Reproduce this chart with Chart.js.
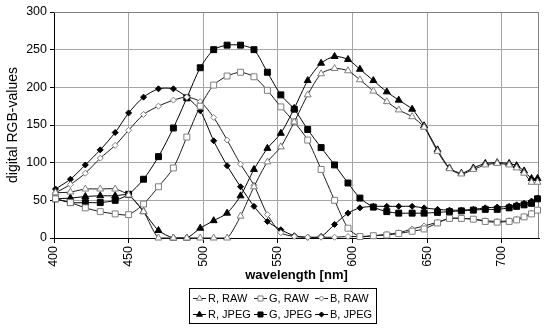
<!DOCTYPE html>
<html>
<head>
<meta charset="utf-8">
<script src="https://cdn.jsdelivr.net/npm/chart.js@4.4.1/dist/chart.umd.min.js"></script>
<style>
	html, body { margin: 0; padding: 0; background: #fff; }
</style>
</head>
<body>
<canvas id="rgbChart" width="545" height="330"></canvas>
<script>
// wavelengths of the measured points [nm]
const wavelengths = [401, 411, 421, 431, 441, 450, 460, 470, 480, 489,
	498, 507, 516, 525, 534, 543, 552, 561, 570, 579,
	588, 597, 605, 614, 623, 631, 640, 648, 657, 665,
	673, 681, 689, 697, 705, 710, 715, 720, 724];

const rRaw = [60, 61, 65, 65, 65, 57, 35, 0, 0, 0,
	0, 0, 0, 29, 68, 101, 121, 154, 190, 218,
	225, 222, 210, 195, 181, 170, 161, 147, 115, 92,
	85, 91, 97, 99, 97, 93, 86, 74, 74];
const gRaw = [52, 47, 40, 35, 32, 31, 45, 68, 93, 134,
	175, 203, 215, 220, 214, 196, 174, 154, 130, 91,
	50, 13, 2, 3, 4, 6, 9, 12, 20, 26,
	26, 25, 22, 21, 22, 24, 28, 32, 37];
const bRaw = [60, 71, 86, 106, 123, 143, 164, 175, 183, 187,
	181, 160, 130, 98, 70, 31, 7, 2, 1, 1,
	1, 2, 2, 3, 5, 7, 12, 16, 21, 26,
	26, 25, 23, 22, 23, 25, 28, 33, 37];
const rJpeg = [52, 53, 55, 56, 56, 57, 35, 10, 0, 0,
	13, 23, 33, 56, 91, 119, 139, 172, 209, 232,
	241, 237, 224, 209, 194, 183, 171, 149, 117, 93,
	86, 93, 99, 100, 99, 96, 89, 79, 79];
const gJpeg = [52, 47, 47, 47, 50, 58, 78, 108, 146, 186,
	226, 250, 256, 256, 250, 220, 190, 171, 144, 120,
	97, 73, 53, 41, 35, 33, 33, 33, 34, 35,
	36, 37, 38, 38, 40, 42, 44, 46, 52];
const bJpeg = [65, 78, 97, 117, 140, 166, 187, 198, 198, 187,
	169, 129, 96, 68, 42, 22, 11, 3, 1, 2,
	18, 33, 40, 42, 42, 42, 42, 40, 38, 37,
	37, 38, 40, 41, 42, 44, 46, 49, 53];

const seriesLabels = ['R, RAW', 'G, RAW', 'B, RAW', 'R, JPEG', 'G, JPEG', 'B, JPEG'];
const xTicks = [400, 450, 500, 550, 600, 650, 700];

const FONT = 'Arial, "Liberation Sans", Helvetica, sans-serif';

function points(values) {
	return values.map(function(v, i) { return {x: wavelengths[i], y: v}; });
}

function rawSet(label, values, style, radius) {
	return {
		label: label,
		data: points(values),
		showLine: true,
		borderColor: '#1a1a1a',
		borderWidth: 1,
		tension: 0.25,
		pointStyle: style,
		pointRadius: radius,
		pointBorderColor: '#7f7f7f',
		pointBackgroundColor: '#fff',
		pointBorderWidth: 1,
		clip: 8
	};
}

function jpegSet(label, values, style, radius) {
	return {
		label: label,
		data: points(values),
		showLine: true,
		borderColor: '#000',
		borderWidth: 1,
		tension: 0.25,
		pointStyle: style,
		pointRadius: radius,
		pointBorderColor: '#000',
		pointBackgroundColor: '#000',
		pointBorderWidth: 1,
		clip: 8
	};
}

// little marker painter for the legend
function drawMarker(ctx, ds, x, y) {
	let r = ds.pointRadius * 0.85;
	ctx.save();
	ctx.beginPath();
	if (ds.pointStyle === 'triangle') {
		ctx.moveTo(x, y - r);
		ctx.lineTo(x + r * 0.866, y + r * 0.5);
		ctx.lineTo(x - r * 0.866, y + r * 0.5);
		ctx.closePath();
	} else if (ds.pointStyle === 'rect') {
		let s = r * Math.SQRT1_2;
		ctx.rect(x - s, y - s, 2 * s, 2 * s);
	} else {
		ctx.moveTo(x, y - r);
		ctx.lineTo(x + r, y);
		ctx.lineTo(x, y + r);
		ctx.lineTo(x - r, y);
		ctx.closePath();
	}
	ctx.fillStyle = ds.pointBackgroundColor;
	ctx.fill();
	ctx.lineWidth = 1;
	ctx.strokeStyle = ds.pointBorderColor;
	ctx.stroke();
	ctx.restore();
}

const frameAndLegend = {
	id: 'frameAndLegend',
	beforeDatasetsDraw: function(chart) {
		let ctx = chart.ctx;
		let a = chart.chartArea;
		ctx.save();
		ctx.strokeStyle = '#808080';
		ctx.lineWidth = 1;
		ctx.beginPath();
		ctx.moveTo(a.left, Math.round(a.top) + 0.5);
		ctx.lineTo(Math.round(a.right) - 0.5, Math.round(a.top) + 0.5);
		ctx.lineTo(Math.round(a.right) - 0.5, a.bottom);
		ctx.stroke();
		ctx.restore();
	},
	afterDraw: function(chart) {
		let ctx = chart.ctx;
		let sets = chart.data.datasets;
		let colW = 61, rowH = 16;
		let boxW = colW * 3 + 4, boxH = rowH * 2 + 3;
		let boxX = 189, boxY = 288;
		ctx.save();
		ctx.strokeStyle = '#000';
		ctx.lineWidth = 1;
		ctx.strokeRect(boxX + 0.5, boxY + 0.5, boxW, boxH);
		ctx.font = '11px ' + FONT;
		ctx.textBaseline = 'middle';
		ctx.fillStyle = '#000';
		for (let i = 0; i < sets.length; i++) {
			let ds = sets[i];
			let col = i % 3, row = Math.floor(i / 3);
			let x = boxX + 4 + col * colW;
			let y = boxY + 2 + rowH / 2 + row * rowH + 0.5;
			ctx.beginPath();
			ctx.strokeStyle = ds.borderColor;
			ctx.moveTo(x, y);
			ctx.lineTo(x + 13, y);
			ctx.stroke();
			drawMarker(ctx, ds, x + 6.5, y);
			ctx.fillText(ds.label, x + 15, y + 0.5);
		}
		ctx.restore();
	}
};

let config = {
	type: 'scatter',
	data: {
		datasets: [
			rawSet(seriesLabels[0], rRaw, 'triangle', 4),
			rawSet(seriesLabels[1], gRaw, 'rect', 4.2),
			rawSet(seriesLabels[2], bRaw, 'rectRot', 3),
			jpegSet(seriesLabels[3], rJpeg, 'triangle', 4),
			jpegSet(seriesLabels[4], gJpeg, 'rect', 4.2),
			jpegSet(seriesLabels[5], bJpeg, 'rectRot', 3)
		]
	},
	options: {
		responsive: false,
		animation: false,
		layout: {
			padding: {top: 12, right: 6, bottom: 0, left: 0}
		},
		plugins: {
			legend: {display: false},
			tooltip: {enabled: false}
		},
		scales: {
			x: {
				type: 'linear',
				min: 400,
				max: 725,
				afterFit: function(scale) { scale.height = 92; },
				afterBuildTicks: function(scale) {
					scale.ticks = xTicks.map(function(v) { return {value: v}; });
				},
				ticks: {
					stepSize: 50,
					includeBounds: false,
					maxRotation: 90,
					minRotation: 90,
					padding: 3,
					color: '#000',
					font: {family: FONT, size: 12.5}
				},
				grid: {
					color: '#a6a6a6',
					tickColor: '#000',
					tickLength: 5,
					lineWidth: 1
				},
				border: {color: '#000'},
				title: {
					display: true,
					text: 'wavelength [nm]',
					color: '#000',
					font: {family: FONT, size: 13, weight: 'bold'},
					padding: {top: 0, bottom: 47}
				}
			},
			y: {
				min: 0,
				max: 300,
				afterFit: function(scale) { scale.width = 54; },
				ticks: {
					stepSize: 50,
					padding: 3,
					color: '#000',
					font: {family: FONT, size: 12.5}
				},
				grid: {
					color: '#a6a6a6',
					tickColor: '#000',
					tickLength: 4,
					lineWidth: 1
				},
				border: {color: '#000'},
				title: {
					display: true,
					text: 'digital RGB-values',
					color: '#000',
					font: {family: FONT, size: 14},
					padding: {top: 5, bottom: 0}
				}
			}
		}
	},
	plugins: [frameAndLegend]
};

let rgbChart = new Chart(document.getElementById('rgbChart'), config);
</script>
</body>
</html>
